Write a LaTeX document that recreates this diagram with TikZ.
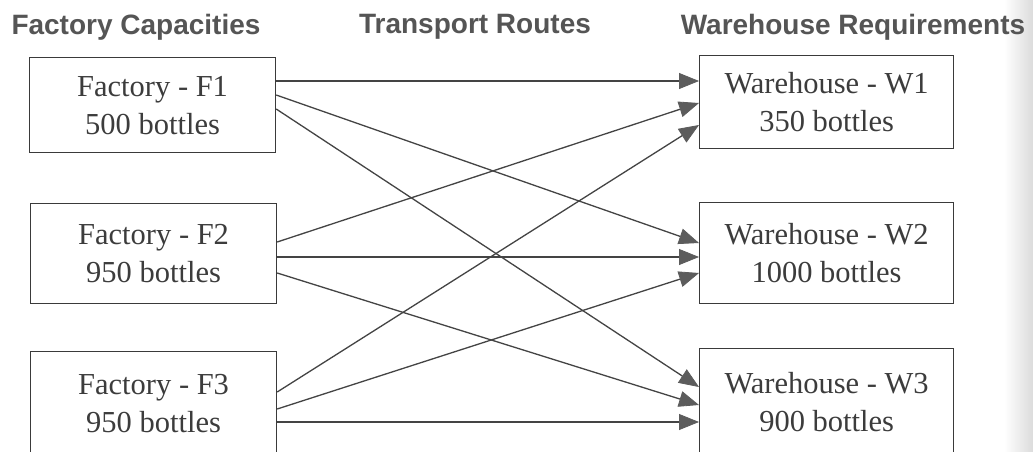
\documentclass[tikz,border=0pt]{standalone}
\usepackage{fontspec}
\setmainfont{Liberation Serif}
\setsansfont{Liberation Sans}
\usetikzlibrary{arrows.meta,calc}
\definecolor{boxline}{HTML}{3A3A3A}
\definecolor{txt}{HTML}{3C3C3C}
\definecolor{head}{HTML}{555555}
\definecolor{route}{HTML}{444444}
\definecolor{tip}{HTML}{5C5C5C}
\tikzset{routetip/.tip={Triangle[length=20pt,width=16pt,line width=0.8pt,fill=tip,color=tip]}}
\begin{document}
\begin{tikzpicture}[x=1pt,y=-1pt,
  place/.style={draw=boxline, line width=1.2pt, anchor=north west, align=center,
    inner sep=0pt, text=txt, font=\fontsize{30.5}{38}\selectfont},
  factory/.style={place, minimum width=246pt},
  warehouse/.style={place, minimum width=254pt},
  heading/.style={text=head, font=\sffamily\bfseries\fontsize{28}{32}\selectfont, inner sep=0pt},
  route/.style={draw=route, line width=1.3pt, -routetip}]
\useasboundingbox (0,0) rectangle (1033,452);
\clip (0,0) rectangle (1033,452);
\fill[white] (0,0) rectangle (1033,452);
% scanner shadow along the right edge
\shade[left color=white, right color=black!14] (1004,0) rectangle (1033,452);

% column headings
\node[heading] (hf) at (136,27) {Factory Capacities};
\node[heading] (ht) at (475,27) {Transport Routes};
\node[heading] (hw) at (853,27) {Warehouse Requirements};

% factories
\node[factory, minimum height=95pt]  (F1) at (29,57)  {Factory - F1\\500 bottles};
\node[factory, minimum height=100pt] (F2) at (30,203) {Factory - F2\\950 bottles};
\node[factory, minimum height=104pt] (F3) at (30,351) {Factory - F3\\950 bottles};

% warehouses
\node[warehouse, minimum height=93pt]  (W1) at (699,55)  {Warehouse - W1\\350 bottles};
\node[warehouse, minimum height=101pt] (W2) at (699,202) {Warehouse - W2\\1000 bottles};
\node[warehouse, minimum height=106pt] (W3) at (699,348) {Warehouse - W3\\900 bottles};

% routes from F1
\draw[route] ($(F1.north east)+(0,24)$) -- ($(W1.north west)+(0,26)$);
\draw[route] ($(F1.north east)+(0,38)$) -- ($(W2.north west)+(0,41)$);
\draw[route] ($(F1.north east)+(0,52)$) -- ($(W3.north west)+(0,39)$);
% routes from F2
\draw[route] ($(F2.north east)+(0,39)$) -- ($(W1.north west)+(0,48)$);
\draw[route] ($(F2.north east)+(0,54)$) -- ($(W2.north west)+(0,55)$);
\draw[route] ($(F2.north east)+(0,70)$) -- ($(W3.north west)+(0,57)$);
% routes from F3
\draw[route] ($(F3.north east)+(0,41)$) -- ($(W1.north west)+(0,70)$);
\draw[route] ($(F3.north east)+(0,58)$) -- ($(W2.north west)+(0,71)$);
\draw[route] ($(F3.north east)+(0,71)$) -- ($(W3.north west)+(0,74)$);
\end{tikzpicture}
\end{document}
